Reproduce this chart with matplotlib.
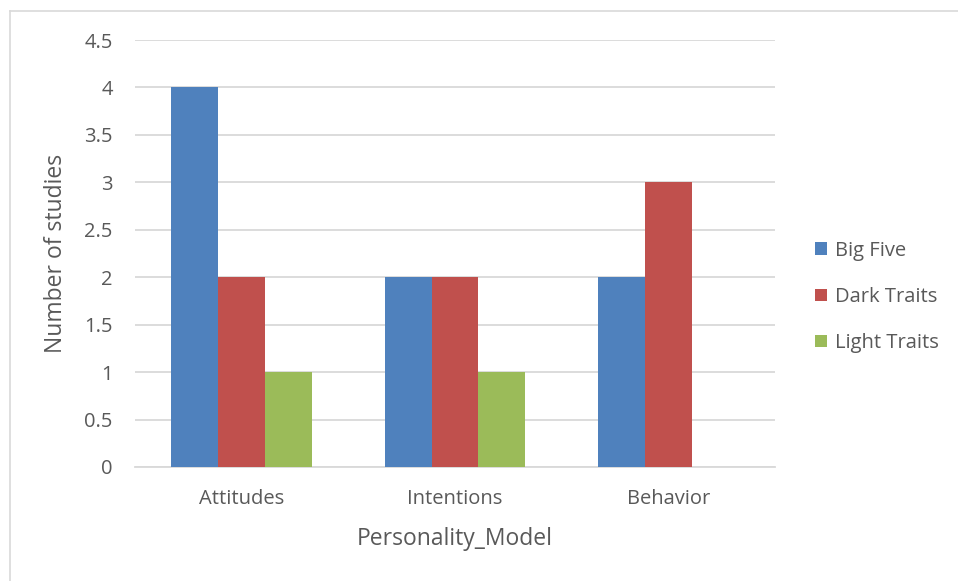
import matplotlib.pyplot as plt
from matplotlib.lines import Line2D
import numpy as np

categories = ["Attitudes", "Intentions", "Behavior"]
series_names = ["Big Five", "Dark Traits", "Light Traits"]
big_five = [4, 2, 2]
dark_traits = [2, 2, 3]
light_traits = [1, 1, 0]
colors = ["#4F81BD", "#C0504D", "#9BBB59"]
y_ticks = [0, 0.5, 1, 1.5, 2, 2.5, 3, 3.5, 4, 4.5]
y_tick_labels = ["0", "0.5", "1", "1.5", "2", "2.5", "3", "3.5", "4", "4.5"]

plt.rcParams["font.family"] = ["Open Sans", "DejaVu Sans"]
text_color = "#595959"
grid_color = "#D9D9D9"

W, H = 958, 581
fig = plt.figure(figsize=(W / 100, H / 100), dpi=100)
ax = fig.add_axes([135 / W, 1 - 467 / H, 640 / W, (467 - 40) / H])

x = np.arange(len(categories))
width = 0.22
values = [big_five, dark_traits, light_traits]
for i, (name, vals, c) in enumerate(zip(series_names, values, colors)):
    ax.bar(x + (i - 1) * width, vals, width, color=c, label=name, zorder=3)

ax.set_xlim(-0.5, len(categories) - 0.5)
ax.set_ylim(0, 4.5)
ax.set_yticks(y_ticks)
ax.set_yticklabels(y_tick_labels)
ax.set_xticks(x)
ax.set_xticklabels(categories)
ax.yaxis.grid(True, color=grid_color, linewidth=1.3, zorder=0)
ax.set_axisbelow(True)
for side in ["top", "right", "left"]:
    ax.spines[side].set_visible(False)
ax.spines["bottom"].set_color(grid_color)
ax.spines["bottom"].set_linewidth(1.3)
ax.tick_params(axis="both", length=0, labelsize=14.5, colors=text_color)
ax.tick_params(axis="y", pad=16)
ax.tick_params(axis="x", pad=16)

ax.set_ylabel("Number of studies", fontsize=16.5, color=text_color, labelpad=12)
ax.set_xlabel("Personality_Model", fontsize=16.5, color=text_color, labelpad=13)

leg = ax.legend(loc="center left", bbox_to_anchor=(815 / W, 1 - 297 / H),
                bbox_transform=fig.transFigure, frameon=False, fontsize=14.5,
                handlelength=0.6, handleheight=0.6, handletextpad=0.4,
                labelspacing=1.3, borderaxespad=0, borderpad=0)
for t in leg.get_texts():
    t.set_color(text_color)

# chart frame edges
fig.add_artist(Line2D([9.5 / W, 9.5 / W], [0, 1 - 10.5 / H], transform=fig.transFigure,
                      color=grid_color, linewidth=1.2))
fig.add_artist(Line2D([9.5 / W, 1], [1 - 10.5 / H, 1 - 10.5 / H], transform=fig.transFigure,
                      color=grid_color, linewidth=1.2))

fig.savefig("out.png", dpi=100, facecolor="white")
